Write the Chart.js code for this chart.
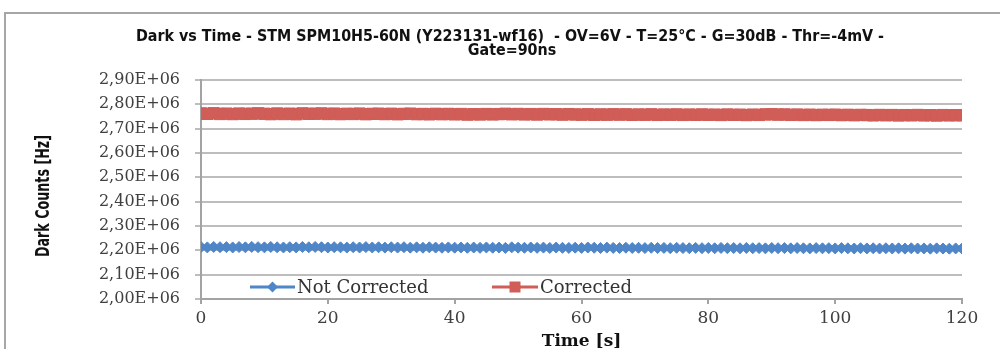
<!DOCTYPE html>
<html><head><meta charset="utf-8">
<script src="https://cdn.jsdelivr.net/npm/chart.js@4.4.1/dist/chart.umd.min.js"></script>
<style>
html,body{margin:0;padding:0;background:#fff;overflow:hidden;width:1000px;height:349px}
#frame{position:absolute;left:4px;top:12px;width:1100px;height:500px;border:2px solid #a6a6a6;box-sizing:border-box}
#wrap{position:absolute;left:0;top:0;width:1000px;height:362px}
</style></head><body>
<div id="frame"></div>
<div id="wrap"><canvas id="c" width="1000" height="362"></canvas></div>
<script>
const titleLines = ["Dark vs Time - STM SPM10H5-60N (Y223131-wf16)  - OV=6V - T=25°C - G=30dB - Thr=-4mV -", "Gate=90ns"];
const seriesNames = ["Not Corrected", "Corrected"];
const yAxisTitle = "Dark Counts [Hz]";
const xAxisTitle = "Time [s]";
const yTickLabels = ["2,00E+06","2,10E+06","2,20E+06","2,30E+06","2,40E+06","2,50E+06","2,60E+06","2,70E+06","2,80E+06","2,90E+06"];
const xTickLabels = ["0","20","40","60","80","100","120"];

const timeS = [0,1,2,3,4,5,6,7,8,9,10,11,12,13,14,15,16,17,18,19,20,21,22,23,24,25,26,27,28,29,30,31,32,33,34,35,36,37,38,39,40,41,42,43,44,45,46,47,48,49,50,51,52,53,54,55,56,57,58,59,60,61,62,63,64,65,66,67,68,69,70,71,72,73,74,75,76,77,78,79,80,81,82,83,84,85,86,87,88,89,90,91,92,93,94,95,96,97,98,99,100,101,102,103,104,105,106,107,108,109,110,111,112,113,114,115,116,117,118,119,120];

const notCorrected = [
2213500,2212100,2214000,2212800,2213200,2211900,2213600,2212400,2214200,2213000,
2212200,2213800,2212600,2211800,2213100,2212000,2213900,2212500,2214100,2212900,
2211600,2213000,2212300,2211400,2212800,2211700,2213200,2211900,2212600,2211200,
2212700,2211500,2212900,2211000,2212200,2210800,2212400,2211300,2210600,2212000,
2210900,2211800,2210400,2211600,2210200,2211900,2210700,2211300,2210100,2212300,
2211000,2210500,2211700,2210200,2211200,2209800,2211400,2210300,2209900,2211000,
2210100,2211500,2210600,2209700,2211200,2210000,2209400,2210800,2209600,2210300,
2209200,2210600,2209500,2210000,2208900,2210400,2209300,2208700,2210100,2209000,
2209600,2208500,2209900,2208800,2209400,2208300,2209700,2208600,2209100,2208200,
2209800,2208700,2209300,2208100,2209500,2208400,2208000,2209200,2208300,2208900,
2207900,2209100,2208200,2207600,2208800,2207800,2208500,2207300,2208600,2207700,
2208300,2207200,2208400,2207500,2207900,2206900,2208100,2207400,2206800,2207800,
2207200];

const corrected = [
2762500,2761000,2763200,2760400,2761800,2759900,2762100,2760600,2761500,2763000,
2761200,2759600,2762400,2760100,2761700,2759300,2762800,2760900,2761400,2762600,
2760200,2761900,2759700,2761100,2760300,2762000,2759500,2760800,2761600,2759800,
2761300,2759200,2760700,2761800,2759600,2760400,2758900,2761000,2759400,2760600,
2758800,2760200,2757900,2759500,2758400,2760100,2758700,2759800,2761200,2759000,
2760500,2758600,2759900,2758100,2760300,2758900,2759400,2757800,2759700,2758300,
2757600,2759200,2756900,2758500,2757400,2759000,2757800,2758900,2756700,2758200,
2757300,2758800,2756600,2758000,2757100,2758600,2756400,2757900,2756800,2758300,
2756900,2757500,2756200,2758100,2756700,2757300,2755900,2757600,2756400,2758700,
2759100,2757800,2758400,2756600,2757900,2756100,2757400,2755800,2757000,2756300,
2757500,2755600,2756900,2755200,2756600,2755900,2754700,2756300,2755100,2756000,
2754400,2755700,2754900,2756200,2754600,2755400,2754100,2755800,2754800,2755300,
2755000];

const BLUE = '#4f86c8';
const RED = '#d05d57';
const AXIS = '#a3a3a3';
const GRID = '#bdbdbd';
const TXT = '#404040';
const CONDENSED = "'DejaVu Sans Condensed', 'Liberation Sans Narrow', 'DejaVu Sans', sans-serif";

function pts(ys){ return ys.map((y,i)=>({x:timeS[i], y:y})); }

const overlay = {
  id:'overlay',
  afterDraw(chart){
    const ctx = chart.ctx;
    ctx.save();
    ctx.fillStyle = '#111';
    ctx.font = "bold 15px " + CONDENSED;
    ctx.textAlign = 'center'; ctx.textBaseline = 'middle';
    const w = ctx.measureText(titleLines[0]).width;
    const sx = 748 / w;
    ctx.translate(510, 0); ctx.scale(sx, 1);
    ctx.fillText(titleLines[0], 0, 37);
    ctx.fillText(titleLines[1], 2 / sx, 51);
    ctx.restore();

    // y axis title (condensed)
    ctx.save();
    ctx.fillStyle = '#111';
    ctx.font = "bold 19px " + CONDENSED;
    ctx.textAlign = 'center'; ctx.textBaseline = 'middle';
    const wy = ctx.measureText(yAxisTitle).width;
    ctx.translate(44, 196); ctx.rotate(-Math.PI / 2); ctx.scale(122 / wy, 1);
    ctx.fillText(yAxisTitle, 0, 0);
    ctx.restore();

    // legend
    const items = [
      {label: seriesNames[0], color: BLUE, style: 'diamond', x0: 250, x1: 295, tx: 297},
      {label: seriesNames[1], color: RED, style: 'square', x0: 492, x1: 538, tx: 540}
    ];
    const ly = 287;
    ctx.save();
    items.forEach(it => {
      ctx.strokeStyle = it.color; ctx.fillStyle = it.color; ctx.lineWidth = 3;
      ctx.beginPath(); ctx.moveTo(it.x0, ly); ctx.lineTo(it.x1, ly); ctx.stroke();
      const cx = (it.x0 + it.x1) / 2;
      ctx.beginPath();
      if (it.style === 'diamond') {
        ctx.moveTo(cx, ly - 5.5); ctx.lineTo(cx + 5.5, ly); ctx.lineTo(cx, ly + 5.5); ctx.lineTo(cx - 5.5, ly);
        ctx.closePath();
      } else {
        ctx.rect(cx - 5.5, ly - 5.5, 11, 11);
      }
      ctx.fill();
      ctx.fillStyle = '#333';
      ctx.font = "18px 'DejaVu Serif'";
      ctx.textAlign = 'left'; ctx.textBaseline = 'middle';
      ctx.fillText(it.label, it.tx, ly + 1);
    });
    ctx.restore();
  }
};

new Chart(document.getElementById('c'), {
  type: 'line',
  data: {
    datasets: [
      {label: seriesNames[0], data: pts(notCorrected), borderColor: BLUE, backgroundColor: BLUE,
       pointBackgroundColor: BLUE, pointBorderColor: BLUE, pointStyle: 'rectRot', pointRadius: 5.5, pointBorderWidth: 1,
       borderWidth: 2.5, tension: 0},
      {label: seriesNames[1], data: pts(corrected), borderColor: RED, backgroundColor: RED,
       pointBackgroundColor: RED, pointBorderColor: RED, pointStyle: 'rect', pointRadius: 8, pointBorderWidth: 1,
       borderWidth: 2.5, tension: 0}
    ]
  },
  options: {
    responsive: false, animation: false, devicePixelRatio: 1,
    layout: {padding: {left: 28, right: 38, top: 80, bottom: 0}},
    plugins: {legend: {display: false}, title: {display: false}, tooltip: {enabled: false}},
    scales: {
      x: {
        type: 'linear', min: 0, max: 120,
        ticks: {stepSize: 20, color: TXT, font: {family: 'DejaVu Serif', size: 17}, padding: 4,
          callback: (v) => { const i = xTickLabels.indexOf(String(v)); return i >= 0 ? xTickLabels[i] : ''; }},
        grid: {drawOnChartArea: false, drawTicks: true, tickLength: 5, color: AXIS, lineWidth: 2},
        border: {display: true, color: AXIS, width: 2},
        title: {display: true, text: xAxisTitle, color: '#111', font: {family: 'DejaVu Serif', size: 17, weight: 'bold'}, padding: {top: 0, bottom: 10}},
        afterFit: (s) => { s.height = 63; }
      },
      y: {
        min: 2000000, max: 2900000,
        ticks: {stepSize: 100000, color: TXT, font: {family: 'DejaVu Serif', size: 16}, padding: 15,
          callback: (v) => { const i = Math.round((v - 2000000) / 100000); return yTickLabels[i]; }},
        grid: {color: GRID, lineWidth: 2, drawTicks: true, tickLength: 6},
        border: {display: true, color: AXIS, width: 2},
        title: {display: false},
        afterFit: (s) => { s.width = 173; }
      }
    }
  },
  plugins: [overlay]
});
</script>
</body></html>
